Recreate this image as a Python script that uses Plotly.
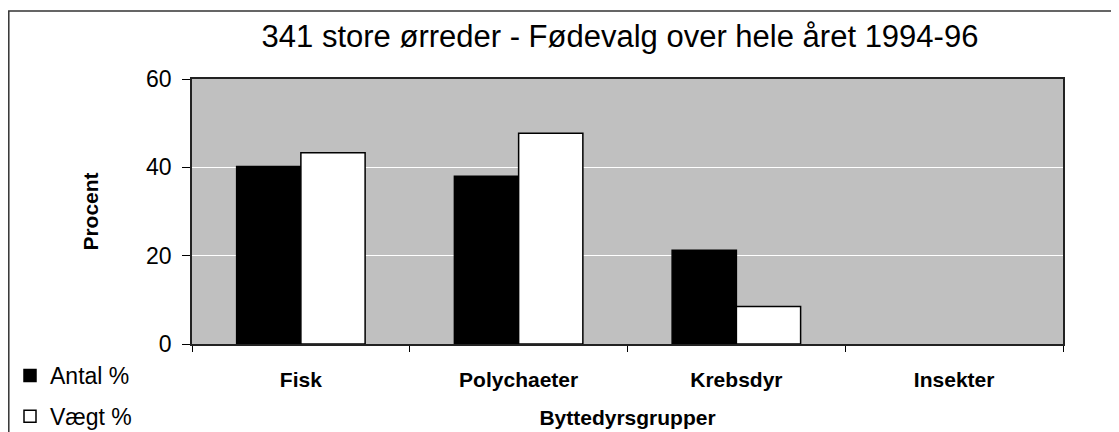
import plotly.graph_objects as go

categories = ["Fisk", "Polychaeter", "Krebsdyr", "Insekter"]
antal = [40.2, 38.0, 21.2, 0.0]
vaegt = [43.3, 47.7, 8.5, 0.0]
y_ticks = [0, 20, 40, 60]

FONT = "Liberation Sans, Arial, sans-serif"


def outline(values):
    return [1.5 if v > 0 else 0 for v in values]


fig = go.Figure()
fig.add_trace(go.Bar(
    x=categories, y=antal, name="Antal %",
    marker=dict(color="black", line=dict(color="black", width=outline(antal))),
    legendgroup="a",
))
fig.add_trace(go.Bar(
    x=categories, y=vaegt, name="Vægt %",
    marker=dict(color="white", line=dict(color="black", width=outline(vaegt))),
    legendgroup="b",
))

# page body has an 8px margin; figure coordinates are page coordinates minus 8
W, H = 1111, 424
L, T = 184, 71
R = W - 1055
B = H - 336
pw = W - L - R
ph = H - T - B


def px_x(p):
    return (p - L) / pw


def px_y(p):
    return (T + ph - p) / ph


fig.update_layout(
    width=W, height=H,
    margin=dict(l=L, r=R, t=T, b=B, pad=0, autoexpand=False),
    paper_bgcolor="white",
    plot_bgcolor="#C0C0C0",
    barmode="group",
    bargap=0.41,
    bargroupgap=0,
    font=dict(family=FONT, color="black", size=22),
    title=dict(
        text="341 store ørreder - Fødevalg over hele året 1994-96",
        font=dict(family=FONT, size=31, color="black"),
        x=612 / W, xanchor="center",
        y=1 - 28 / H, yanchor="middle",
    ),
    legend=dict(
        x=px_x(2), xanchor="left",
        y=px_y(346), yanchor="top",
        font=dict(family=FONT, size=23, color="black"),
        bgcolor="rgba(0,0,0,0)",
        tracegroupgap=8,
        itemwidth=30,
    ),
    showlegend=True,
)

fig.update_yaxes(
    range=[0, 60],
    tickvals=y_ticks,
    ticks="outside", ticklen=8, tickcolor="black", tickwidth=1,
    ticklabelstandoff=6,
    tickfont=dict(family=FONT, size=23, color="black"),
    showline=True, linecolor="#222222", linewidth=1.5, mirror=True,
    showgrid=True, gridcolor="white", gridwidth=1.2,
    zeroline=False,
    title=dict(text="<b>Procent</b>", font=dict(family=FONT, size=21, color="black"), standoff=42),
    automargin=False,
)
fig.update_xaxes(
    tickson="boundaries",
    ticks="outside", ticklen=6, tickcolor="black", tickwidth=1,
    ticklabelstandoff=16,
    tickfont=dict(family=FONT, size=21, color="black"),
    tickvals=categories,
    ticktext=["<b>" + c + "</b>" for c in categories],
    showline=True, linecolor="#222222", linewidth=1.5, mirror=True,
    showgrid=False,
    title=dict(text="<b>Byttedyrsgrupper</b>", font=dict(family=FONT, size=21, color="black"), standoff=20),
    automargin=False,
)

# outer chart border (top and left visible, continuing past the picture edges)
fig.add_shape(
    type="rect", xref="paper", yref="paper",
    x0=px_x(0.8), x1=px_x(W + 20),
    y0=px_y(H + 20), y1=px_y(3),
    line=dict(color="#333333", width=1.5),
    fillcolor="rgba(0,0,0,0)", layer="below",
)

fig.write_html("out.html")
